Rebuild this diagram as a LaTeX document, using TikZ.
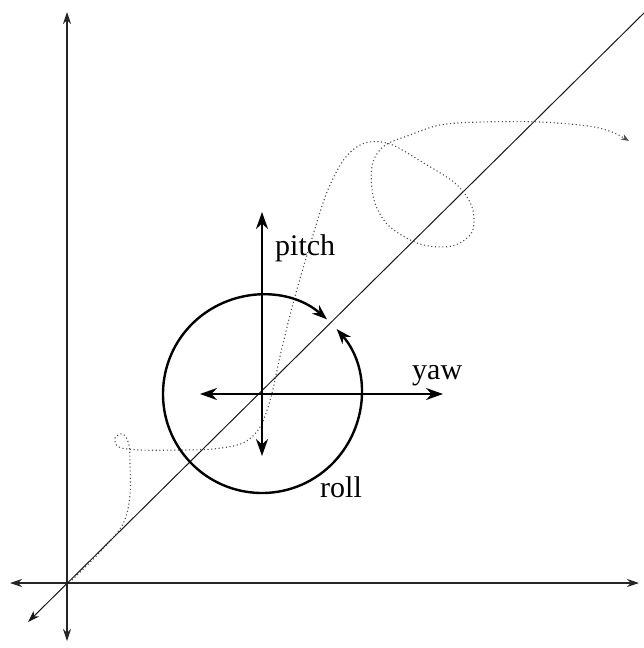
\documentclass[tikz,border=0pt]{standalone}
\usepackage{fontspec}
\setmainfont{Liberation Serif}
\usetikzlibrary{arrows.meta}
\begin{document}
\begin{tikzpicture}[x=1pt,y=-1pt,
  axis/.style={line width=1.1pt,draw=black!85,{Stealth[length=12pt,width=8pt]}-{Stealth[length=12pt,width=8pt]}},
  diag/.style={line width=1pt,draw=black!90,{Stealth[length=12pt,width=8pt]}-},
  bold/.style={line width=2.4pt,{Stealth[length=17pt,width=12pt]}-{Stealth[length=17pt,width=12pt]}},
  rollarc/.style={line width=2.4pt,{Stealth[length=15pt,width=11pt]}-{Stealth[length=15pt,width=11pt]}},
  path/.style={line width=1.1pt,draw=black!70,dash pattern=on 1.1pt off 2.6pt,-{Stealth[length=8pt,width=6pt]}},
  lbl/.style={font=\fontsize{30}{36}\selectfont,inner sep=0pt}]
\useasboundingbox (0,0) rectangle (643,648);
% coordinates
\coordinate (O) at (67,583);
\coordinate (vtop) at (67,12);
\coordinate (vbot) at (67,641);
\coordinate (hleft) at (10,583);
\coordinate (hright) at (639,583);
\coordinate (dlow) at (28,622);
\coordinate (dhigh) at (645,12);
\coordinate (C) at (262,394);
\coordinate (ptop) at (262,212);
\coordinate (pbot) at (262,456);
\coordinate (yl) at (200,394);
\coordinate (yr) at (443,394);
% axes
\draw[axis] (vbot) -- (vtop);
\draw[axis] (hleft) -- (hright);
\draw[diag] (dlow) -- (dhigh);
% dotted trajectory
\draw[path] plot[smooth,tension=0.55] coordinates {
 (72,580) (100,552) (123,524) (130,495) (130,465) (129,445) (123,434) (115,438) (119,447) (140,450)
 (180,450) (213,449) (243,443) (260,427) (271,397) (281,352) (294,300) (310,245) (327,192)
 (345,158) (365,143) (390,144) (422,162) (456,184) (472,207) (472,232) (452,246) (420,244)
 (389,226) (374,200) (372,166) (384,146) (410,135) (440,125) (480,122) (540,122) (588,126)
 (612,132) (629,141)};
% circle (roll)
\draw[rollarc] (C) ++(-41:99) arc[start angle=-41,end angle=311,radius=99];
% pitch and yaw
\draw[bold] (pbot) -- (ptop);
\draw[bold] (yl) -- (yr);
% labels
\node[lbl,anchor=base west] (pitch) at (275,255) {pitch};
\node[lbl,anchor=base west] (yaw) at (412,379) {yaw};
\node[lbl,anchor=base west] (roll) at (320,497) {roll};
\end{tikzpicture}
\end{document}
